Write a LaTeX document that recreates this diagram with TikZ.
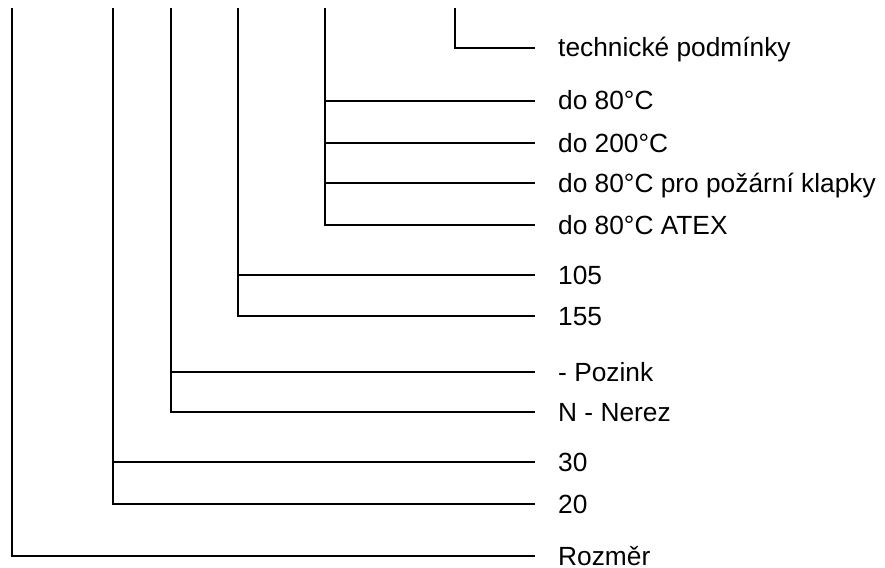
\documentclass[tikz,border=0pt]{standalone}
\usepackage{fontspec}
\setmainfont{Liberation Sans}
\usetikzlibrary{positioning}

\begin{document}
\begin{tikzpicture}[x = 1pt, y = -1pt,
		line/.style = {line width = 2.2pt},
		lbl/.style = {inner sep = 0pt, text height = 18pt, text depth = 0pt, font = \fontsize{26.3}{30}\selectfont}]
		\useasboundingbox (0, 0) rectangle (885, 567);
		%%%%%%%%%%%%%
		\coordinate (t1) at (12, 8);
		\coordinate (t2) at (113, 8);
		\coordinate (t3) at (171, 8);
		\coordinate (t4) at (238, 8);
		\coordinate (t5) at (325, 8);
		\coordinate (t6) at (455, 8);
		%%%%%%%%%%%%%
		\coordinate (e1) at (535, 48);
		\coordinate (e2) at (535, 101);
		\coordinate (e3) at (535, 143);
		\coordinate (e4) at (535, 183);
		\coordinate (e5) at (535, 225);
		\coordinate (e6) at (535, 275);
		\coordinate (e7) at (535, 316);
		\coordinate (e8) at (535, 372);
		\coordinate (e9) at (535, 412);
		\coordinate (e10) at (535, 462);
		\coordinate (e11) at (535, 504);
		\coordinate (e12) at (535, 556);
		%%%%%%%%%%%%%
		\node [lbl, right = 23pt of e1] (l1) {technické podmínky};
		\node [lbl, right = 23pt of e2] (l2) {do 80°C};
		\node [lbl, right = 23pt of e3] (l3) {do 200°C};
		\node [lbl, right = 23pt of e4] (l4) {do 80°C pro požární klapky};
		\node [lbl, right = 23pt of e5] (l5) {do 80°C ATEX};
		\node [lbl, right = 23pt of e6] (l6) {105};
		\node [lbl, right = 23pt of e7] (l7) {155};
		\node [lbl, right = 23pt of e8] (l8) {- Pozink};
		\node [lbl, right = 23pt of e9] (l9) {N - Nerez};
		\node [lbl, right = 23pt of e10] (l10) {30};
		\node [lbl, right = 23pt of e11] (l11) {20};
		\node [lbl, right = 23pt of e12] (l12) {Rozměr};
		%%%%%%%%%%%%%
		\draw [line] (t6) |- (e1);
		\draw [line] (t5) |- (e5);
		\draw [line] (t5 |- e2) -- (e2); \draw [line] (t5 |- e3) -- (e3); \draw [line] (t5 |- e4) -- (e4);
		\draw [line] (t4) |- (e7);
		\draw [line] (t4 |- e6) -- (e6);
		\draw [line] (t3) |- (e9);
		\draw [line] (t3 |- e8) -- (e8);
		\draw [line] (t2) |- (e11);
		\draw [line] (t2 |- e10) -- (e10);
		\draw [line] (t1) |- (e12);
\end{tikzpicture}
\end{document}
